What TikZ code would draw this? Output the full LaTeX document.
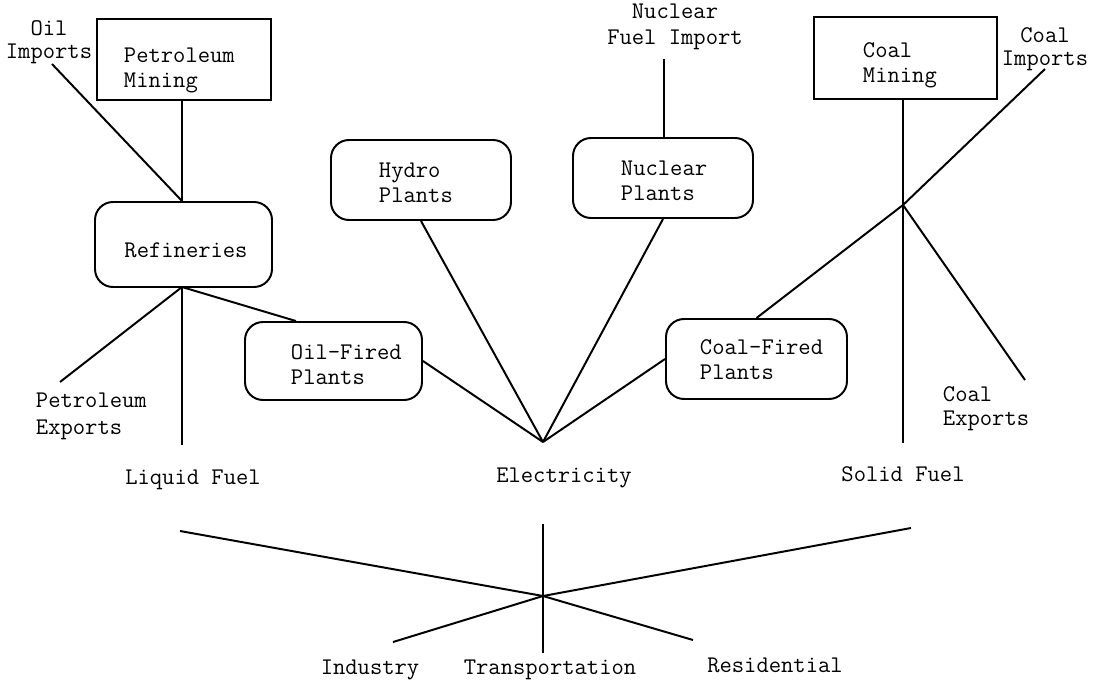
\documentclass[tikz,border=0pt]{standalone}
\usepackage{fontspec}
\usetikzlibrary{calc}
\begin{document}
\begin{tikzpicture}[x=0.025cm,y=-0.025cm,
  line width=1.4pt,
  every node/.style={font=\ttfamily\fontsize{17}{17.8}\selectfont, inner sep=0pt},
  sqbox/.style 2 args={draw, rectangle, minimum width=#1*0.025cm, minimum height=#2*0.025cm},
  rbox/.style 2 args={sqbox={#1}{#2}, rounded corners=0.45cm},
  lbl/.style={align=left, anchor=west},
  ctr/.style={align=center}]
\fill[white] (0,0) rectangle (1104,684);
\useasboundingbox (0,0) rectangle (1104,684);

% boxes
\node[sqbox={174}{81}] (pm) at (184,59.5) {};
\node[lbl] (pmt) at (123,70.5) {Petroleum\\Mining};
\node[rbox={177}{85}] (ref) at (183.5,244.5) {};
\node (reft) at (186,250) {Refineries};
\node[rbox={177}{78}] (oil) at (333.5,361) {};
\node[lbl] (oilt) at (290,365) {Oil-Fired\\Plants};
\node[rbox={180}{80}] (hyd) at (421,180) {};
\node[lbl] (hydt) at (378,182.5) {Hydro\\Plants};
\node[rbox={180}{80}] (nuc) at (663,178) {};
\node[lbl] (nuct) at (620,180.5) {Nuclear\\Plants};
\node[sqbox={183}{82}] (cm) at (905.5,58) {};
\node[lbl] (cmt) at (862,65) {Coal\\Mining};
\node[rbox={181}{80}] (cf) at (756.5,359) {};
\node[lbl] (cft) at (699,360) {Coal-Fired\\Plants};

% labels
\node[ctr, font=\ttfamily\fontsize{17}{16.6}\selectfont] (oilimp) at (49,42) {Oil\\Imports};
\node[ctr, font=\ttfamily\fontsize{17}{18.5}\selectfont] (nfi) at (675,27) {Nuclear\\Fuel Import};
\node[ctr, font=\ttfamily\fontsize{17}{16.6}\selectfont] (cimp) at (1045,49) {Coal\\Imports};
\node[lbl, font=\ttfamily\fontsize{17}{19}\selectfont] (pexp) at (35,416.5) {Petroleum\\Exports};
\node[lbl, font=\ttfamily\fontsize{17}{17}\selectfont] (cexp) at (942,409) {Coal\\Exports};
\node (lf) at (193,480) {Liquid Fuel};
\node (el) at (564,478) {Electricity};
\node (sf) at (903,474) {Solid Fuel};
\node (ind) at (370,670) {Industry};
\node (tra) at (550,670) {Transportation};
\node (res) at (775,665) {Residential};

% free ends and junctions
\coordinate (oiEnd) at (52,64);
\coordinate (rJ) at (182,287);
\coordinate (peEnd) at (60,382);
\coordinate (lfEnd) at (182,445);
\coordinate (elJ) at (543,442);
\coordinate (nfiEnd) at (664,59);
\coordinate (ciEnd) at (1045,69);
\coordinate (cJ) at (903,205);
\coordinate (ceEnd) at (1025,380);
\coordinate (sfEnd) at (903,443);
\coordinate (hub) at (543,596);
\coordinate (lfIn) at (180,531);
\coordinate (sfIn) at (911,528);
\coordinate (elIn) at (543,524);
\coordinate (trEnd) at (543,653);
\coordinate (inEnd) at (393,642);
\coordinate (reEnd) at (693,640);

% connectors
\draw (oiEnd) -- (rJ |- ref.north);
\draw (rJ |- pm.south) -- (rJ |- ref.north);
\draw (rJ) -- (peEnd);
\draw (rJ) -- (lfEnd);
\draw (rJ) -- ($(oil.north west)!0.29!(oil.north east)$);
\draw (oil.east) -- (elJ);
\draw (hyd.south) -- (elJ);
\draw (nuc.south) -- (elJ);
\draw (cf.west) -- (elJ);
\draw (nfiEnd) -- (nfiEnd |- nuc.north);
\draw (cJ |- cm.south) -- (sfEnd);
\draw (ciEnd) -- (cJ) -- (cf.north);
\draw (cJ) -- (ceEnd);
\draw (lfIn) -- (hub) -- (reEnd);
\draw (sfIn) -- (hub) -- (inEnd);
\draw (elIn) -- (trEnd);
\end{tikzpicture}
\end{document}
